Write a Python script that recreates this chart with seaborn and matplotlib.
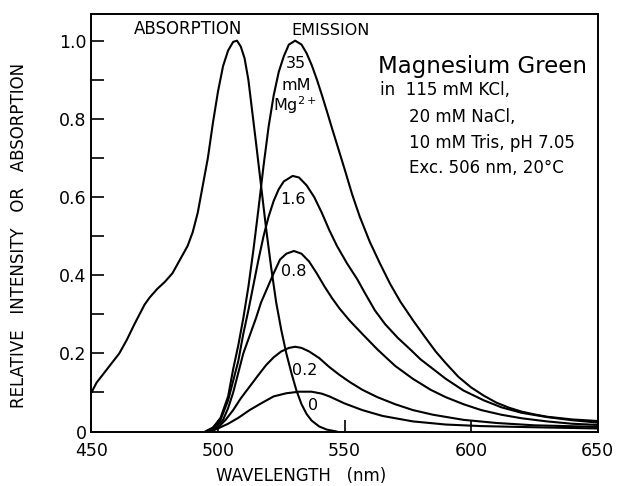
import matplotlib
matplotlib.use("Agg")
import matplotlib.pyplot as plt
import seaborn as sns

# ── data ─────────────────────────────────────────────────────────────────────
abs_wl = [450, 452, 455, 458, 461, 464, 467, 469, 471, 473, 476, 479, 482, 485,
          488, 490, 492, 494, 496, 498, 500, 502, 504, 506, 507.5, 509, 510.5,
          512, 513.5, 515, 517, 519, 521, 523, 525, 527, 529, 531, 533, 535, 537,
          540, 543, 547]
abs_val = [0.10, 0.125, 0.15, 0.175, 0.20, 0.235, 0.275, 0.30, 0.325, 0.343,
           0.365, 0.383, 0.405, 0.44, 0.475, 0.51, 0.56, 0.63, 0.70, 0.79, 0.87,
           0.935, 0.975, 0.997, 1.0, 0.985, 0.955, 0.90, 0.82, 0.74, 0.63, 0.52,
           0.42, 0.33, 0.26, 0.20, 0.15, 0.105, 0.07, 0.045, 0.028, 0.013, 0.005,
           0.0]

em35_wl = [495, 498, 501, 504, 506, 508, 510, 512, 514, 516, 518, 520, 522, 524,
           526, 528, 530.5, 533, 535, 537, 539, 541, 543, 545, 547, 550, 553, 556,
           560, 564, 568, 572, 577, 582, 586, 590, 595, 600, 605, 610, 615, 620,
           625, 630, 640, 650]
em35_val = [0.0, 0.01, 0.035, 0.09, 0.16, 0.22, 0.29, 0.37, 0.465, 0.57, 0.68,
            0.78, 0.86, 0.92, 0.96, 0.99, 1.0, 0.99, 0.968, 0.938, 0.902, 0.862,
            0.82, 0.777, 0.735, 0.672, 0.607, 0.55, 0.485, 0.43, 0.378, 0.333,
            0.285, 0.24, 0.205, 0.175, 0.14, 0.113, 0.092, 0.074, 0.061, 0.051,
            0.044, 0.038, 0.031, 0.027]

em16_wl = [495, 498, 501, 504, 506, 508, 510, 512, 514, 516, 518, 520, 522, 524,
           526, 529.5, 532, 535, 538, 541, 544, 547, 551, 555, 558, 562, 566, 571,
           576, 580, 584, 590, 597, 605, 612, 620, 630, 640, 650]
em16_val = [0.0, 0.01, 0.03, 0.08, 0.13, 0.18, 0.25, 0.31, 0.375, 0.44, 0.50,
            0.55, 0.59, 0.62, 0.64, 0.654, 0.65, 0.63, 0.60, 0.56, 0.515, 0.475,
            0.43, 0.39, 0.355, 0.31, 0.275, 0.24, 0.21, 0.185, 0.165, 0.135,
            0.105, 0.08, 0.062, 0.048, 0.037, 0.029, 0.023]

em08_wl = [496, 499, 502, 504, 506, 508, 510, 512.5, 515, 517, 519, 522, 524.5,
           527, 530, 533, 536, 539, 542, 545, 548, 552, 557, 563, 570, 577, 584,
           590, 597, 604, 612, 620, 630, 640, 650]
em08_val = [0.0, 0.01, 0.03, 0.06, 0.10, 0.15, 0.20, 0.245, 0.29, 0.33, 0.36,
            0.405, 0.44, 0.455, 0.462, 0.455, 0.435, 0.405, 0.372, 0.342, 0.315,
            0.284, 0.25, 0.21, 0.168, 0.135, 0.107, 0.088, 0.07, 0.055, 0.043,
            0.034, 0.026, 0.02, 0.017]

em02_wl = [497, 500, 503, 506, 509, 512.5, 516, 519, 522, 525, 528, 530.5, 533,
           536, 540, 544, 548, 552, 557, 563, 570, 577, 585, 597, 610, 625, 650]
em02_val = [0.0, 0.01, 0.03, 0.055, 0.085, 0.115, 0.145, 0.17, 0.19, 0.205,
            0.214, 0.217, 0.214, 0.205, 0.188, 0.165, 0.145, 0.127, 0.107, 0.088,
            0.07, 0.055, 0.043, 0.03, 0.022, 0.016, 0.012]

em00_wl = [497, 500, 504, 508, 512.5, 517, 522, 527, 532, 537, 541, 544, 550,
           557, 565, 577, 590, 604, 625, 650]
em00_val = [0.0, 0.008, 0.02, 0.035, 0.055, 0.072, 0.09, 0.098, 0.102, 0.102,
            0.097, 0.09, 0.072, 0.055, 0.04, 0.026, 0.018, 0.014, 0.011, 0.008]

x_ticks = [450, 500, 550, 600, 650]
y_ticks = [0, 0.2, 0.4, 0.6, 0.8, 1.0]
y_tick_labels = ["0", "0.2", "0.4", "0.6", "0.8", "1.0"]

# ── plotting ─────────────────────────────────────────────────────────────────
sns.set_theme(style="ticks")
plt.rcParams["font.family"] = ["DejaVu Sans"]
plt.rcParams["text.color"] = "black"
plt.rcParams["axes.labelcolor"] = "black"

fig = plt.figure(figsize=(6.18, 4.86), dpi=100)
ax = fig.add_axes([0.148, 0.112, 0.819, 0.859])

series = [(abs_wl, abs_val), (em35_wl, em35_val), (em16_wl, em16_val),
          (em08_wl, em08_val), (em02_wl, em02_val), (em00_wl, em00_val)]
for wl, val in series:
    sns.lineplot(x=wl, y=val, color="black", linewidth=1.5, ax=ax)

ax.set_xlim(450, 650)
ax.set_ylim(0, 1.068)
ax.set_xticks(x_ticks)
ax.set_xticklabels([str(t) for t in x_ticks])
ax.set_yticks(y_ticks)
ax.set_yticklabels(y_tick_labels)
ax.set_yticks([0.1, 0.3, 0.5, 0.7, 0.9], minor=True)
ax.tick_params(axis="both", which="both", direction="in", length=9, width=1.2,
               labelsize=12.5, colors="black")
ax.tick_params(axis="x", pad=7.5)
for sp in ax.spines.values():
    sp.set_linewidth(1.4)
    sp.set_color("black")

ax.set_xlabel("WAVELENGTH   (nm)", fontsize=12)
ax.xaxis.set_label_coords(0.414, -0.086)
ax.set_ylabel("RELATIVE   INTENSITY   OR   ABSORPTION", fontsize=12)
ax.yaxis.set_label_coords(-0.126, 0.47)

ax.text(488, 1.03, "ABSORPTION", fontsize=12, ha="center", va="center")
ax.text(544.6, 1.027, "EMISSION", fontsize=11.5, ha="center", va="center")

ax.text(530.8, 0.942, "35", fontsize=11.5, ha="center", va="center")
ax.text(530.8, 0.886, "mM", fontsize=11.5, ha="center", va="center")
ax.text(530.3, 0.836, r"Mg$^{2+}$", fontsize=11.5, ha="center", va="center")
ax.text(529.7, 0.593, "1.6", fontsize=11.5, ha="center", va="center")
ax.text(530.1, 0.409, "0.8", fontsize=11.5, ha="center", va="center")
ax.text(534.3, 0.156, "0.2", fontsize=11.5, ha="center", va="center")
ax.text(537.6, 0.066, "0", fontsize=11.5, ha="center", va="center")

ax.text(563.2, 0.934, "Magnesium Green", fontsize=16.5, ha="left", va="center")
ax.text(564, 0.874, "in  115 mM KCl,", fontsize=12, ha="left", va="center")
ax.text(575.5, 0.805, "20 mM NaCl,", fontsize=12, ha="left", va="center")
ax.text(575.5, 0.739, "10 mM Tris, pH 7.05", fontsize=12, ha="left", va="center")
ax.text(575.5, 0.675, "Exc. 506 nm, 20°C", fontsize=12, ha="left", va="center")

fig.savefig("out.png", dpi=100)
